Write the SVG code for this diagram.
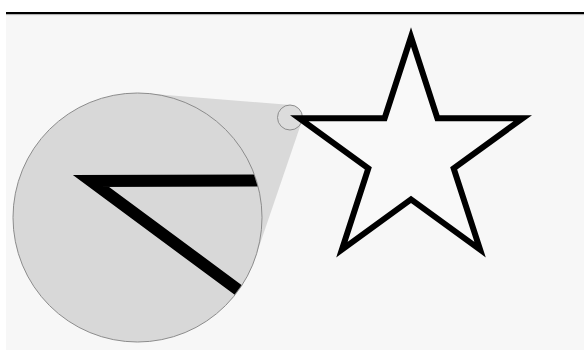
<svg xmlns="http://www.w3.org/2000/svg" width="584" height="350" viewBox="0 0 584 350">
  <style>
    .lens { fill: #d8d8d8; stroke: #8c8c8c; stroke-width: 1; }
    .cone { fill: #d9d9d9; stroke: none; }
    .ink { fill: none; stroke: #000; stroke-linejoin: miter; stroke-miterlimit: 4; }
  </style>
  <defs>
    <clipPath id="lensClip">
      <circle cx="137.5" cy="217.5" r="124"/>
    </clipPath>
  </defs>
  <rect x="0" y="0" width="584" height="350" fill="#ffffff"/>
  <rect x="6" y="14" width="578" height="336" fill="#f7f7f7"/>
  <line x1="6" y1="13" x2="584" y2="13" stroke="#000" stroke-width="2"/>
  <line x1="6" y1="14.6" x2="584" y2="14.6" stroke="#aaaaaa" stroke-width="1"/>

  <g id="magnifier">
    <polygon class="cone" points="147.6,93.4 291,105 301.8,121.5 255.3,257.7 137.5,217.5"/>
    <circle class="lens" cx="137.5" cy="217.5" r="124.5"/>
    <g clip-path="url(#lensClip)">
      <polyline class="ink" stroke-width="12" points="300,180.5 91,181 291,329"/>
    </g>
    <circle cx="290" cy="117.5" r="12.5" fill="#dcdcdc" stroke="#8c8c8c" stroke-width="1"/>
  </g>

  <g id="star">
    <polygon class="ink" fill="#ffffff" style="fill:#f9f9f9" stroke-width="6"
      points="411,37 437.38,118.19 522.75,118.19 453.68,168.37 480.07,249.56 411,199.38 341.93,249.56 368.32,168.37 299.25,118.19 384.62,118.19"/>
  </g>
</svg>
